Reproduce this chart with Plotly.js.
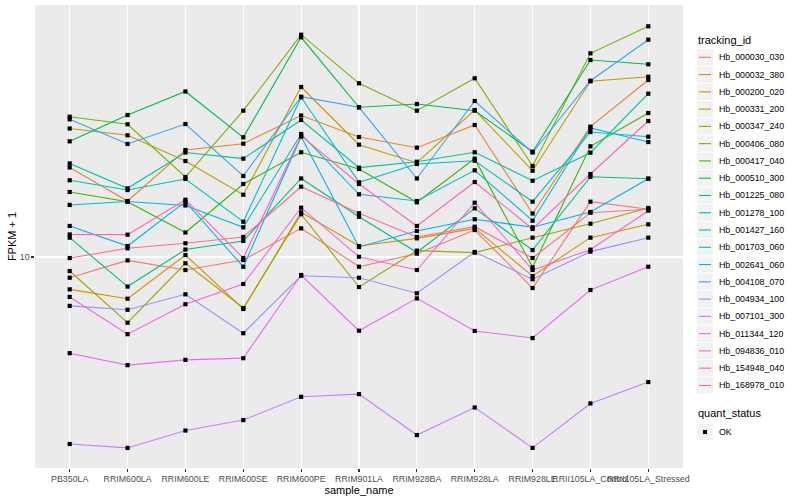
<!DOCTYPE html>
<html>
<head>
<meta charset="utf-8">
<script src="https://cdn.plot.ly/plotly-3.0.1.min.js"></script>
<style>
html,body{margin:0;padding:0;background:#ffffff;}
#chart{width:800px;height:500px;}
</style>
</head>
<body>
<div id="chart"></div>
<script>
// ---- data ----
const sampleNames = ["PB350LA","RRIM600LA","RRIM600LE","RRIM600SE","RRIM600PE","RRIM901LA","RRIM928BA","RRIM928LA","RRIM928LE","RRII105LA_Control","RRII105LA_Stressed"];

const trackingIds = ["Hb_000030_030","Hb_000032_380","Hb_000200_020","Hb_000331_200","Hb_000347_240","Hb_000406_080","Hb_000417_040","Hb_000510_300","Hb_001225_080","Hb_001278_100","Hb_001427_160","Hb_001703_060","Hb_002641_060","Hb_004108_070","Hb_004934_100","Hb_007101_300","Hb_011344_120","Hb_094836_010","Hb_154948_040","Hb_168978_010"];

// FPKM + 1, one array per gene, in sampleNames order
const fpkm_Hb_000030_030 = [8.53, 9.74, 9.05, 9.77, 12.46, 9.28, 10.26, 12.30, 7.88, 15.29, 14.42];
const fpkm_Hb_000032_380 = [19.88, 15.37, 22.73, 23.86, 29.63, 25.12, 23.14, 27.54, 13.96, 27.19, 38.90];
const fpkm_Hb_000200_020 = [7.80, 7.26, 10.15, 6.71, 14.09, 10.88, 11.54, 12.46, 8.64, 11.60, 12.85];
const fpkm_Hb_000331_200 = [26.81, 25.45, 20.89, 16.13, 36.87, 23.68, 20.62, 30.90, 19.39, 38.52, 39.90];
const fpkm_Hb_000347_240 = [8.98, 6.04, 9.53, 6.76, 13.88, 7.94, 10.50, 10.34, 11.60, 12.91, 14.57];
const fpkm_Hb_000406_080 = [29.35, 27.69, 18.48, 30.74, 55.08, 37.93, 30.74, 39.42, 20.11, 47.75, 58.75];
const fpkm_Hb_000417_040 = [16.47, 15.29, 12.07, 17.51, 22.34, 19.65, 15.22, 21.27, 9.24, 23.39, 30.20];
const fpkm_Hb_000510_300 = [24.30, 29.74, 35.62, 25.06, 53.99, 31.55, 32.36, 30.74, 22.44, 45.36, 43.89];
const fpkm_Hb_001225_080 = [11.60, 7.97, 10.59, 11.31, 18.27, 13.62, 10.37, 14.53, 10.55, 18.52, 18.24];
const fpkm_Hb_001278_100 = [20.50, 16.94, 22.30, 21.27, 28.62, 19.85, 20.78, 22.34, 17.96, 22.27, 35.02];
const fpkm_Hb_001427_160 = [18.02, 16.72, 18.20, 13.11, 34.07, 17.74, 20.42, 20.94, 15.29, 26.10, 25.18];
const fpkm_Hb_001703_060 = [14.91, 15.31, 14.85, 12.56, 25.70, 16.18, 15.37, 19.45, 13.21, 26.92, 24.17];
const fpkm_Hb_002641_060 = [12.69, 10.88, 15.29, 9.28, 25.18, 10.80, 12.21, 13.36, 12.56, 14.13, 18.24];
const fpkm_Hb_004108_070 = [28.77, 23.81, 27.75, 18.62, 34.22, 31.55, 18.27, 33.11, 22.30, 38.70, 53.01];
const fpkm_Hb_004934_100 = [6.87, 6.67, 7.51, 5.57, 8.66, 8.53, 7.57, 10.39, 8.43, 10.42, 11.60];
const fpkm_Hb_007101_300 = [2.38, 2.31, 2.64, 2.86, 3.42, 3.49, 2.55, 3.15, 2.31, 3.25, 3.83];
const fpkm_Hb_011344_120 = [4.78, 4.36, 4.54, 4.60, 8.71, 5.68, 7.28, 5.67, 5.37, 7.76, 9.28];
const fpkm_Hb_094836_010 = [7.36, 5.53, 6.96, 8.13, 14.60, 10.02, 9.05, 15.17, 9.05, 10.58, 14.27];
const fpkm_Hb_154948_040 = [11.89, 11.87, 15.52, 9.92, 25.37, 17.51, 12.69, 17.78, 12.40, 18.91, 28.40];
const fpkm_Hb_168978_010 = [9.92, 10.69, 11.11, 11.66, 17.15, 13.99, 11.66, 12.62, 9.92, 14.05, 14.42];

const quantStatusLevels = ["OK"];
const yTickValues = [10];
const yTickLabels = ["10"];

// ---- styles ----
const hueColors = ["#F8766D","#EA8331","#D89000","#C09B00","#A3A500","#7CAE00","#39B600","#00BB4E","#00BF7D","#00C1A3","#00BFC4","#00BAE0","#00B0F6","#35A2FF","#9590FF","#C77CFF","#E76BF3","#FA62DB","#FF62BC","#FF6C91"];

const seriesValues = [fpkm_Hb_000030_030, fpkm_Hb_000032_380, fpkm_Hb_000200_020, fpkm_Hb_000331_200, fpkm_Hb_000347_240, fpkm_Hb_000406_080, fpkm_Hb_000417_040, fpkm_Hb_000510_300, fpkm_Hb_001225_080, fpkm_Hb_001278_100, fpkm_Hb_001427_160, fpkm_Hb_001703_060, fpkm_Hb_002641_060, fpkm_Hb_004108_070, fpkm_Hb_004934_100, fpkm_Hb_007101_300, fpkm_Hb_011344_120, fpkm_Hb_094836_010, fpkm_Hb_154948_040, fpkm_Hb_168978_010];

const FONT = "Liberation Sans, Arial, Helvetica, sans-serif";
const W = 800, H = 500;
const M = {l: 35, r: 117, t: 5, b: 32};
const PW = W - M.l - M.r, PH = H - M.t - M.b;
const px2x = px => (px - M.l) / PW;
const px2y = py => (H - M.b - py) / PH;

const traces = [];
// lines first (ggplot geom_line layer)
trackingIds.forEach((id, i) => {
  traces.push({
    type: 'scatter', mode: 'lines', name: id,
    x: sampleNames, y: seriesValues[i],
    line: {color: hueColors[i], width: 1.1},
    hoverinfo: 'skip', showlegend: false
  });
});
// points on top (geom_point layer, quant_status = OK)
trackingIds.forEach((id, i) => {
  traces.push({
    type: 'scatter', mode: 'markers', name: id + ' ' + quantStatusLevels[0],
    x: sampleNames, y: seriesValues[i],
    marker: {color: '#000000', size: 4.2, symbol: 'square', line: {width: 0}},
    hoverinfo: 'skip', showlegend: false
  });
});

// ---- manual ggplot-style legend ----
const shapes = [];
const annotations = [];
const legLeft = 696, keyX0 = 697, keyX1 = 713, textX = 717;
const firstKeyY = 57.3, keyStep = 17.27;

annotations.push({
  xref: 'paper', yref: 'paper', x: px2x(legLeft), y: px2y(39.5),
  xanchor: 'left', yanchor: 'middle', showarrow: false,
  text: 'tracking_id', font: {family: FONT, size: 11, color: '#000000'}
});
trackingIds.forEach((id, i) => {
  const cy = firstKeyY + i * keyStep;
  shapes.push({type: 'rect', xref: 'paper', yref: 'paper',
    x0: px2x(keyX0), x1: px2x(keyX1), y0: px2y(cy - 8.1), y1: px2y(cy + 8.1),
    fillcolor: '#F2F2F2', line: {width: 0}, layer: 'above'});
  shapes.push({type: 'line', xref: 'paper', yref: 'paper',
    x0: px2x(keyX0 + 2), x1: px2x(keyX1 - 2), y0: px2y(cy), y1: px2y(cy),
    line: {color: hueColors[i], width: 1.1}, layer: 'above'});
  annotations.push({xref: 'paper', yref: 'paper', x: px2x(textX), y: px2y(cy),
    xanchor: 'left', yanchor: 'middle', showarrow: false,
    text: id, font: {family: FONT, size: 8.8, color: '#000000'}});
});
// quant_status legend
annotations.push({
  xref: 'paper', yref: 'paper', x: px2x(legLeft), y: px2y(413),
  xanchor: 'left', yanchor: 'middle', showarrow: false,
  text: 'quant_status', font: {family: FONT, size: 11, color: '#000000'}
});
quantStatusLevels.forEach((lv, i) => {
  const cy = 432 + i * keyStep;
  shapes.push({type: 'rect', xref: 'paper', yref: 'paper',
    x0: px2x(keyX0), x1: px2x(keyX1), y0: px2y(cy - 8.1), y1: px2y(cy + 8.1),
    fillcolor: '#F2F2F2', line: {width: 0}, layer: 'above'});
  shapes.push({type: 'rect', xref: 'paper', yref: 'paper',
    x0: px2x(703), x1: px2x(707), y0: px2y(cy - 2), y1: px2y(cy + 2),
    fillcolor: '#000000', line: {width: 0}, layer: 'above'});
  annotations.push({xref: 'paper', yref: 'paper', x: px2x(textX), y: px2y(cy),
    xanchor: 'left', yanchor: 'middle', showarrow: false,
    text: lv, font: {family: FONT, size: 8.8, color: '#000000'}});
});

const layout = {
  width: W, height: H,
  margin: {l: M.l, r: M.r, t: M.t, b: M.b, pad: 0},
  paper_bgcolor: '#FFFFFF',
  plot_bgcolor: '#EBEBEB',
  font: {family: FONT, size: 8.8, color: '#4D4D4D'},
  showlegend: false,
  xaxis: {
    type: 'category', categoryorder: 'array', categoryarray: sampleNames,
    range: [-0.6, sampleNames.length - 0.4],
    showgrid: true, gridcolor: '#FFFFFF', gridwidth: 1.07,
    zeroline: false, showline: false,
    ticks: 'outside', ticklen: 2.7, tickwidth: 1.07, tickcolor: '#333333',
    tickangle: 0, tickfont: {family: FONT, size: 8.8, color: '#4D4D4D'},
    title: {text: 'sample_name', font: {family: FONT, size: 11, color: '#000000'}, standoff: 0},
    automargin: false, fixedrange: true
  },
  yaxis: {
    type: 'log', range: [0.29667, 1.84],
    tickmode: 'array', tickvals: yTickValues, ticktext: yTickLabels,
    showgrid: true, gridcolor: '#FFFFFF', gridwidth: 1.07,
    zeroline: false, showline: false,
    ticks: 'outside', ticklen: 2.7, tickwidth: 1.07, tickcolor: '#333333',
    tickfont: {family: FONT, size: 8.8, color: '#4D4D4D'},
    title: {text: 'FPKM + 1', font: {family: FONT, size: 11, color: '#000000'}, standoff: 0},
    automargin: false, fixedrange: true
  },
  shapes: shapes,
  annotations: annotations
};

Plotly.newPlot('chart', traces, layout, {staticPlot: true, displayModeBar: false});
</script>
</body>
</html>
